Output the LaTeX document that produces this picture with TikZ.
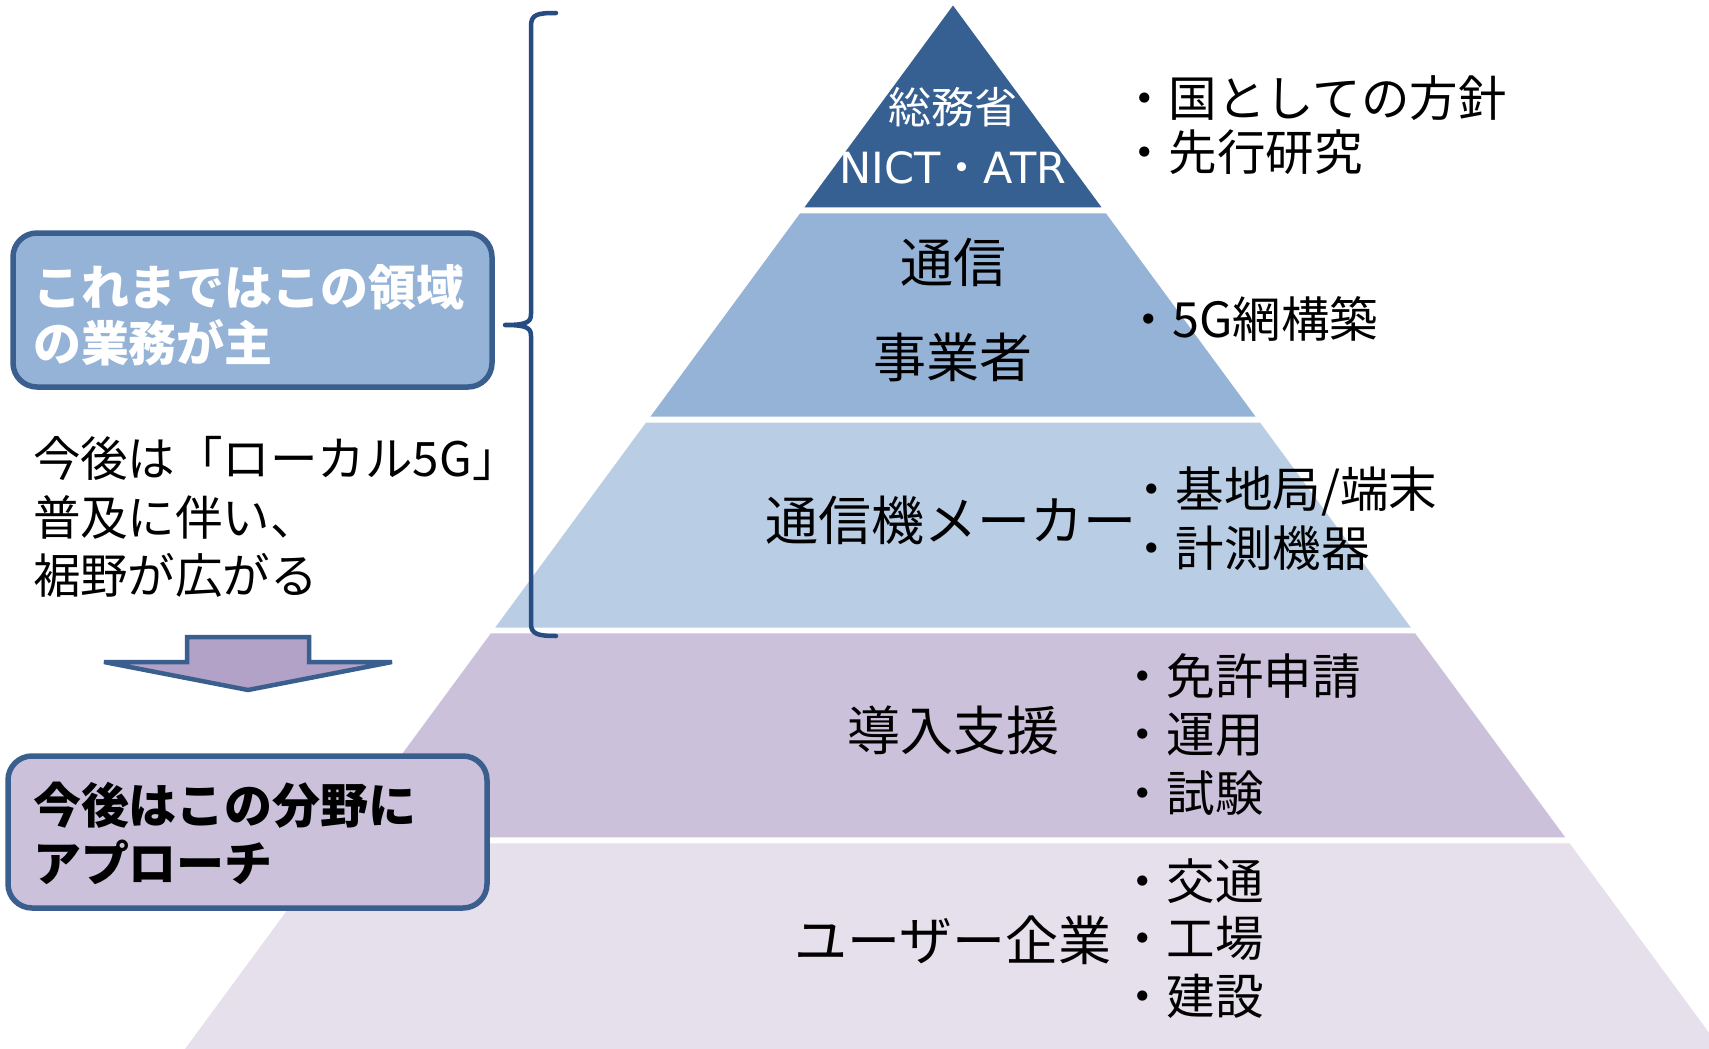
\documentclass[tikz,border=0pt]{standalone}
\usepackage{fontspec}
\setmainfont{Noto Sans CJK JP}
\newfontfamily\latf{DejaVu Sans}
\definecolor{tierA}{HTML}{376092}
\definecolor{tierB}{HTML}{95B3D7}
\definecolor{tierC}{HTML}{B9CDE5}
\definecolor{tierD}{HTML}{CCC1DA}
\definecolor{tierE}{HTML}{E6E0EC}
\definecolor{boxline}{HTML}{3A5F8E}
\definecolor{arrowfill}{HTML}{B3A2C7}
\definecolor{bracecol}{HTML}{264C82}
\tikzset{
  every node/.style={inner sep=0pt,outer sep=0pt},
  tierlbl/.style={anchor=base,font=\fontsize{53}{60}\selectfont},
  toplbl/.style={anchor=base,text=white,font=\fontsize{43}{50}\selectfont},
  listtxt/.style={anchor=base west,font=\fontsize{48.5}{58}\selectfont},
  sidetxt/.style={anchor=base west,font=\fontsize{47.5}{58}\selectfont},
  boxtxt/.style={anchor=base west,font=\fontsize{48}{58}\selectfont\bfseries},
  roundbox/.style={draw=boxline,line width=5.5pt,rounded corners=24pt,anchor=north west},
}
\begin{document}
\begin{tikzpicture}[x=1pt,y=-1pt]
\useasboundingbox (0,0) rectangle (1709,1049);
\fill[white] (0,0) rectangle (1709,1049);
\begin{scope}
\clip (0,0) rectangle (1709,1049);
\fill[tierA] (953,5.5) -- (1101.5,207.3) -- (804.5,207.3) -- cycle;
\fill[tierB] (800.1,213.3) -- (1105.9,213.3) -- (1255.6,416.7) -- (650.4,416.7) -- cycle;
\fill[tierC] (645.9,422.7) -- (1260.1,422.7) -- (1410.9,627.7) -- (495.1,627.7) -- cycle;
\fill[tierD] (490.9,633.3) -- (1415.1,633.3) -- (1565.2,837.3) -- (340.8,837.3) -- cycle;
\fill[tierE] (336.4,843.3) -- (1569.6,843.3) -- (1721,1049) -- (185,1049) -- cycle;
\end{scope}

% tier labels
\node[toplbl] (soumu) at (953,123) {総務省};
\node[toplbl] (nict) at (953,183) {{\latf NICT}・{\latf ATR}};
\node[tierlbl] (tsushin) at (953,282) {通信};
\node[tierlbl] (jigyo) at (953,377) {事業者};
\node[tierlbl] (maker) at (951,540) {通信機メーカー};
\node[tierlbl] (donyu) at (953,750) {導入支援};
\node[tierlbl] (user) at (953,960) {ユーザー企業};

% right lists
\node[listtxt] (l1a) at (1120,116) {・国としての方針};
\node[listtxt] (l1b) at (1120,170) {・先行研究};
\node[listtxt] (l2a) at (1124,337) {・5G網構築};
\node[listtxt] (l3a) at (1127,507) {・基地局/端末};
\node[listtxt] (l3b) at (1127,566) {・計測機器};
\node[listtxt] (l4a) at (1118,694) {・免許申請};
\node[listtxt] (l4b) at (1118,752) {・運用};
\node[listtxt] (l4c) at (1118,811) {・試験};
\node[listtxt] (l5a) at (1118,899) {・交通};
\node[listtxt] (l5b) at (1118,956) {・工場};
\node[listtxt] (l5c) at (1118,1014) {・建設};

% brace
\draw[bracecol,line width=4.5pt,line cap=round,line join=round]
  (556,13) .. controls (538,13) and (531,14) .. (531,26)
  -- (531,314) .. controls (531,322) and (527,325) .. (505,325)
  .. controls (527,325) and (531,328) .. (531,336)
  -- (531,624) .. controls (531,634) and (538,636) .. (556,636);

% left box 1
\node[roundbox,fill=tierB,minimum width=479pt,minimum height=154pt] (box1) at (13,233) {};
\node[boxtxt,text=white] (box1a) at (33,305) {これまではこの領域};
\node[boxtxt,text=white] (box1b) at (33,361) {の業務が主};

% middle text
\node[sidetxt] (mid1) at (33,476) {今後は「ローカル5G」};
\node[sidetxt] (mid2) at (33,535) {普及に伴い、};
\node[sidetxt] (mid3) at (33,593) {裾野が広がる};

% arrow
\draw[draw=boxline,fill=arrowfill,line width=4.5pt,line join=miter]
  (187,637) -- (309,637) -- (309,662) -- (392,662) -- (248,690) -- (104,662) -- (187,662) -- cycle;

% left box 2
\node[roundbox,fill=tierD,minimum width=479pt,minimum height=152pt] (box2) at (8,756) {};
\node[boxtxt] (box2a) at (33,823) {今後はこの分野に};
\node[boxtxt] (box2b) at (33,881) {アプローチ};
\end{tikzpicture}
\end{document}
